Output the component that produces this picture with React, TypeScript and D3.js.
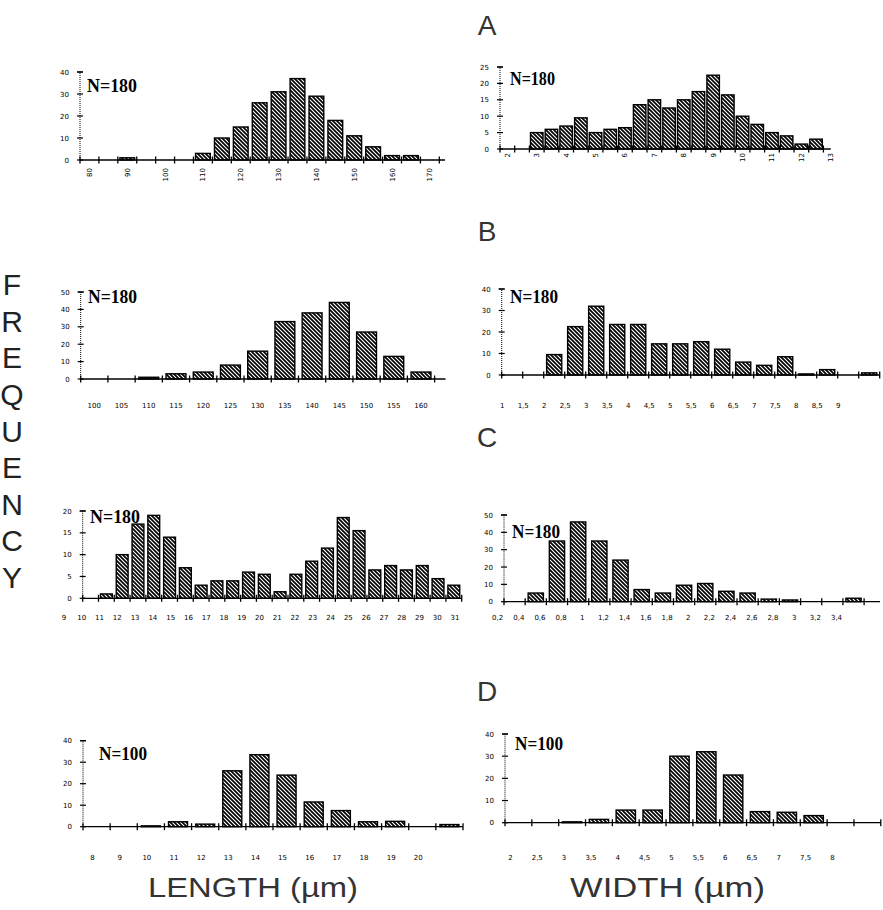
import React, { useEffect, useRef } from 'react'
import * as d3 from 'd3'

// A - length
const aLenBins = [90, 110, 115, 120, 125, 130, 135, 140, 145, 150, 155, 160, 165]
const aLenCounts = [1, 3, 10, 15, 26, 31, 37, 29, 18, 11, 6, 2, 2]
const aLenLabels = ['80', '90', '100', '110', '120', '130', '140', '150', '160', '170']
// A - width
const aWidBins = [3, 3.5, 4, 4.5, 5, 5.5, 6, 6.5, 7, 7.5, 8, 8.5, 9, 9.5, 10, 10.5, 11, 11.5, 12, 12.5]
const aWidCounts = [5, 6, 7, 9.5, 5, 6, 6.5, 13.5, 15, 12.5, 15, 17.5, 22.5, 16.5, 10, 7.5, 5, 4, 1.5, 3]
const aWidLabels = ['2', '3', '4', '5', '6', '7', '8', '9', '10', '11', '12', '13']

// B - length
const bLenBins = [110, 115, 120, 125, 130, 135, 140, 145, 150, 155, 160]
const bLenCounts = [1, 3, 4, 8, 16, 33, 38, 44, 27, 13, 4]
const bLenLabels = ['100', '105', '110', '115', '120', '125', '130', '135', '140', '145', '150', '155', '160']
// B - width
const bWidBins = [2, 2.5, 3, 3.5, 4, 4.5, 5, 5.5, 6, 6.5, 7, 7.5, 8, 8.5, 9.5]
const bWidCounts = [9.5, 22.5, 32, 23.5, 23.5, 14.5, 14.5, 15.5, 12, 6, 4.5, 8.5, 0.5, 2.5, 1]
const bWidLabels = ['1', '1,5', '2', '2,5', '3', '3,5', '4', '4,5', '5', '5,5', '6', '6,5', '7', '7,5', '8', '8,5', '9']

// C - length
const cLenBins = [9, 10, 11, 12, 13, 14, 15, 16, 17, 18, 19, 20, 21, 22, 23, 24, 25, 26, 27, 28, 29, 30, 31]
const cLenCounts = [1, 10, 17, 19, 14, 7, 3, 4, 4, 6, 5.5, 1.5, 5.5, 8.5, 11.5, 18.5, 15.5, 6.5, 7.5, 6.5, 7.5, 4.5, 3]
const cLenLabels = ['9', '10', '11', '12', '13', '14', '15', '16', '17', '18', '19', '20', '21', '22', '23', '24', '25', '26', '27', '28', '29', '30', '31']
// C - width
const cWidBins = [0.4, 0.6, 0.8, 1, 1.2, 1.4, 1.6, 1.8, 2, 2.2, 2.4, 2.6, 2.8, 3.4]
const cWidCounts = [5, 35, 46, 35, 24, 7, 5, 9.5, 10.5, 6, 5, 1.5, 1, 2]
const cWidLabels = ['0,2', '0,4', '0,6', '0,8', '1', '1,2', '1,4', '1,6', '1,8', '2', '2,2', '2,4', '2,6', '2,8', '3', '3,2', '3,4']

// D - length
const dLenBins = [10, 11, 12, 13, 14, 15, 16, 17, 18, 19, 21]
const dLenCounts = [0.4, 2.3, 1.2, 26, 33.5, 24, 11.5, 7.5, 2.3, 2.5, 1]
const dLenLabels = ['8', '9', '10', '11', '12', '13', '14', '15', '16', '17', '18', '19', '20']
// D - width
const dWidBins = [3, 3.5, 4, 4.5, 5, 5.5, 6, 6.5, 7, 7.5]
const dWidCounts = [0.4, 1.5, 5.7, 5.7, 30, 32, 21.5, 5, 4.7, 3.2]
const dWidLabels = ['2', '2,5', '3', '3,5', '4', '4,5', '5', '5,5', '6', '6,5', '7', '7,5', '8']

const sectionLetters = ['A', 'B', 'C', 'D']
const yWord = 'FREQUENCY'

const num = (s: string) => parseFloat(s.replace(',', '.'))

type Panel = {
  bins: number[]; counts: number[]; labels: string[]; n: string
  xDom: [number, number]; xRange: [number, number]
  yMax: number; yStep: number; yRange: [number, number]
  bin: number; frac: number
  nX: number; nY: number; nW: number
  labelY: number; rotate?: boolean; labelRange?: [number, number]; labelShift?: number
}

const panels: Panel[] = [
  { bins: aLenBins, counts: aLenCounts, labels: aLenLabels, n: 'N=180', xDom: [77.5, 174], xRange: [80, 445], yMax: 40, yStep: 10, yRange: [160, 72], bin: 5, frac: 0.78, nX: 87, nY: 92, nW: 50, labelY: 168, rotate: true },
  { bins: aWidBins, counts: aWidCounts, labels: aWidLabels, n: 'N=180', xDom: [1.75, 13], xRange: [500, 830.75], yMax: 25, yStep: 5, yRange: [149, 67], bin: 0.5, frac: 0.85, nX: 510, nY: 85, nW: 45, labelY: 153, rotate: true },
  { bins: bLenBins, counts: bLenCounts, labels: bLenLabels, n: 'N=180', xDom: [97.5, 164.5], xRange: [80.7, 445.5], yMax: 50, yStep: 10, yRange: [379, 292], bin: 5, frac: 0.73, nX: 88, nY: 303, nW: 49, labelY: 408 },
  { bins: bWidBins, counts: bWidCounts, labels: bWidLabels, n: 'N=180', xDom: [0.75, 9.75], xRange: [501.7, 879.7], yMax: 40, yStep: 10, yRange: [375, 289], bin: 0.5, frac: 0.72, nX: 510, nY: 303, nW: 48, labelY: 408, labelShift: -10 },
  { bins: cLenBins, counts: cLenCounts, labels: cLenLabels, n: 'N=180', xDom: [7.5, 31.5], xRange: [82.7, 461.7], yMax: 20, yStep: 5, yRange: [598.3, 511], bin: 1, frac: 0.75, nX: 90, nY: 523, nW: 50, labelY: 620, labelRange: [64, 455] },
  { bins: cWidBins, counts: cWidCounts, labels: cWidLabels, n: 'N=180', xDom: [0.1, 3.65], xRange: [504, 880], yMax: 50, yStep: 10, yRange: [601.7, 515], bin: 0.2, frac: 0.72, nX: 512, nY: 538, nW: 48, labelY: 620, labelShift: -17 },
  { bins: dLenBins, counts: dLenCounts, labels: dLenLabels, n: 'N=100', xDom: [7.5, 21.5], xRange: [83, 463], yMax: 40, yStep: 10, yRange: [826.7, 740.7], bin: 1, frac: 0.7, nX: 99, nY: 760, nW: 48, labelY: 860, labelShift: -4 },
  { bins: dWidBins, counts: dWidCounts, labels: dWidLabels, n: 'N=100', xDom: [1.75, 8.75], xRange: [505, 880.8], yMax: 40, yStep: 10, yRange: [822.7, 734], bin: 0.5, frac: 0.72, nX: 515, nY: 750, nW: 48, labelY: 860, labelShift: -8 }
]

function drawPanel (svg: d3.Selection<SVGSVGElement, unknown, null, undefined>, p: Panel) {
  const g = svg.append('g')
  const x = d3.scaleLinear().domain(p.xDom).range(p.xRange)
  const y = d3.scaleLinear().domain([0, p.yMax]).range(p.yRange)
  const y0 = y(0)
  const x0 = p.xRange[0]

  // bars
  const bw = (x(p.bin) - x(0)) * p.frac
  g.selectAll('rect.bar')
    .data(p.bins.map((b, i) => ({ b, c: p.counts[i] })))
    .enter().append('rect')
    .attr('class', 'bar')
    .attr('x', d => x(d.b) - bw / 2)
    .attr('y', d => y(d.c))
    .attr('width', bw)
    .attr('height', d => y0 - y(d.c))
    .attr('fill', 'url(#hatch)')
    .attr('stroke', '#000')
    .attr('stroke-width', 1.4)

  // x axis
  g.append('line').attr('x1', x0).attr('x2', p.xRange[1]).attr('y1', y0).attr('y2', y0)
    .attr('stroke', '#000').attr('stroke-width', 1.3)
  const edges = d3.range(p.xDom[0], p.xDom[1] + p.bin * 0.01, p.bin)
  g.selectAll('line.xt').data(edges).enter().append('line')
    .attr('x1', d => x(d)).attr('x2', d => x(d))
    .attr('y1', y0 - 3.5).attr('y2', y0 + 3.5)
    .attr('stroke', '#000').attr('stroke-width', 1.3)

  // y axis
  g.append('line').attr('x1', x0).attr('x2', x0).attr('y1', y0).attr('y2', y(p.yMax))
    .attr('stroke', '#000').attr('stroke-width', 1)
    .attr('stroke-dasharray', '1,1')
  g.append('line').attr('x1', x0 - 3).attr('x2', x0 + 3).attr('y1', y(p.yMax)).attr('y2', y(p.yMax))
    .attr('stroke', '#000').attr('stroke-width', 1.2)
  const yt = d3.range(0, p.yMax + 0.01, p.yStep)
  g.selectAll('line.yt').data(yt).enter().append('line')
    .attr('x1', x0 - 3).attr('x2', x0 + 3).attr('y1', d => y(d)).attr('y2', d => y(d))
    .attr('stroke', '#000').attr('stroke-width', 1.2)
  g.selectAll('text.yl').data(yt).enter().append('text')
    .attr('x', x0 - 11).attr('y', d => y(d) + 2.5)
    .attr('text-anchor', 'end')
    .attr('font-family', 'DejaVu Sans, sans-serif')
    .attr('font-size', 7)
    .text(d => String(d))

  // x labels
  const shift = p.labelShift || 0
  const lx = p.labelRange
    ? d3.scalePoint<string>().domain(p.labels).range(p.labelRange)
    : (s: string) => x(num(s)) + shift
  if (p.rotate) {
    g.selectAll('text.xl').data(p.labels).enter().append('text')
      .attr('transform', d => `translate(${(lx(d) as number) + 2.5},${p.labelY}) rotate(-90)`)
      .attr('text-anchor', 'end')
      .attr('font-family', 'DejaVu Sans, sans-serif')
      .attr('font-size', 7)
      .text(d => d)
  } else {
    g.selectAll('text.xl').data(p.labels).enter().append('text')
      .attr('x', d => lx(d) as number).attr('y', p.labelY)
      .attr('text-anchor', 'middle')
      .attr('font-family', 'DejaVu Sans, sans-serif')
      .attr('font-size', 7)
      .text(d => d)
  }

  // N label
  g.append('text')
    .attr('x', p.nX).attr('y', p.nY)
    .attr('font-family', 'Liberation Serif, serif')
    .attr('font-weight', 'bold')
    .attr('font-size', 19)
    .attr('textLength', p.nW)
    .attr('lengthAdjust', 'spacingAndGlyphs')
    .text(p.n)
}

export default function App () {
  const ref = useRef<SVGSVGElement>(null)

  useEffect(() => {
    const svg = d3.select(ref.current as SVGSVGElement)
    svg.selectAll('*').remove()

    const defs = svg.append('defs')
    const pat = defs.append('pattern')
      .attr('id', 'hatch')
      .attr('patternUnits', 'userSpaceOnUse')
      .attr('width', 4).attr('height', 4)
    pat.append('rect').attr('width', 4).attr('height', 4).attr('fill', '#fff')
    pat.append('path')
      .attr('d', 'M-1,-1 L5,5 M-1,3 L1,5 M3,-1 L5,1')
      .attr('stroke', '#000').attr('stroke-width', 1.7)

    panels.forEach(p => drawPanel(svg, p))

    // section letters
    const letterY = d3.scaleOrdinal<string, number>().domain(sectionLetters).range([35, 241, 447, 701])
    svg.selectAll('text.sec').data(sectionLetters).enter().append('text')
      .attr('x', 487).attr('y', d => letterY(d))
      .attr('text-anchor', 'middle')
      .attr('font-family', 'Liberation Sans, sans-serif')
      .attr('font-size', 28)
      .attr('fill', '#333')
      .text(d => d)

    // FREQUENCY
    const fy = d3.scalePoint<number>().domain(d3.range(yWord.length)).range([284, 577])
    svg.selectAll('text.fq').data(yWord.split('')).enter().append('text')
      .attr('x', 12).attr('y', (d, i) => (fy(i) as number) + 11)
      .attr('text-anchor', 'middle')
      .attr('font-family', 'Liberation Sans, sans-serif')
      .attr('font-size', 30)
      .attr('fill', '#222')
      .text(d => d)

    // bottom titles
    svg.append('text').attr('x', 148).attr('y', 897)
      .attr('font-family', 'Liberation Sans, sans-serif').attr('font-size', 28)
      .attr('fill', '#333')
      .attr('textLength', 210).attr('lengthAdjust', 'spacingAndGlyphs')
      .text('LENGTH (µm)')
    svg.append('text').attr('x', 570).attr('y', 897)
      .attr('font-family', 'Liberation Sans, sans-serif').attr('font-size', 28)
      .attr('fill', '#333')
      .attr('textLength', 195).attr('lengthAdjust', 'spacingAndGlyphs')
      .text('WIDTH (µm)')
  }, [])

  return (
    <svg ref={ref} width={883} height={910}
      style={{ position: 'absolute', left: 0, top: 0, background: '#fff' }} />
  )
}
